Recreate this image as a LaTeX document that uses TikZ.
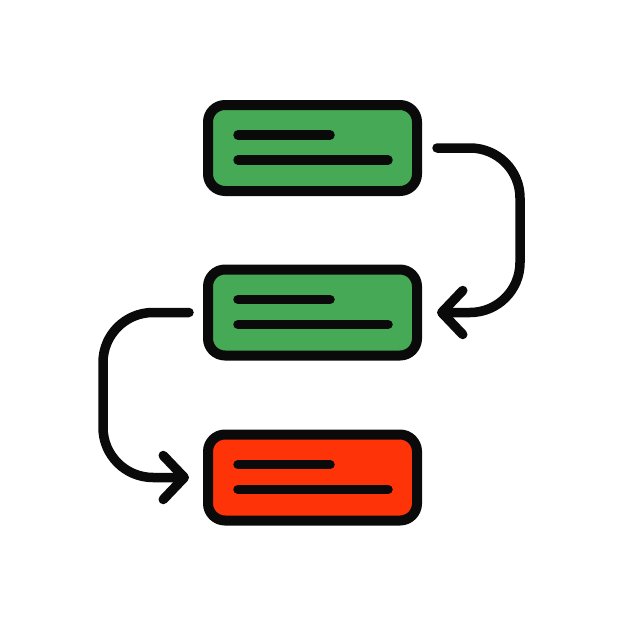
\documentclass[tikz,border=0pt]{standalone}
\usetikzlibrary{arrows.meta,calc}
\definecolor{boxgreen}{HTML}{45A956}
\definecolor{boxred}{HTML}{FE3408}
\definecolor{ink}{HTML}{0A0A0A}
\begin{document}
\begin{tikzpicture}[x=1pt,y=-1pt,
  stepbox/.style={draw=ink,line width=10pt,rounded corners=17pt,minimum width=209pt,minimum height=86pt,inner sep=0pt},
  textline/.style={draw=ink,line width=9.5pt,line cap=round},
  conn/.style={draw=ink,line width=9.5pt,line cap=round,rounded corners=50pt,-{Straight Barb[round,length=21pt,width=44pt,line width=9.5pt]}}]
\useasboundingbox (0,0) rectangle (626,626);
\fill[white] (0,0) rectangle (626,626);
\node[stepbox,fill=boxgreen] (a) at (312.5,148) {};
\node[stepbox,fill=boxgreen] (b) at (312.5,312.5) {};
\node[stepbox,fill=boxred] (c) at (312.5,477.5) {};
\foreach \n in {a,b,c}{
  \draw[textline] ($(\n.center)+(-74.5,-13)$) -- ($(\n.center)+(17.5,-13)$);
  \draw[textline] ($(\n.center)+(-74.5,12)$) -- ($(\n.center)+(75.5,12)$);
}
\draw[conn] ([xshift=15pt]a.east) -- ++(83,0) |- ([xshift=15pt]b.east);
\draw[conn] ([xshift=-14pt]b.west) -- ++(-86,0) |- ([xshift=-14pt]c.west);
\end{tikzpicture}
\end{document}
